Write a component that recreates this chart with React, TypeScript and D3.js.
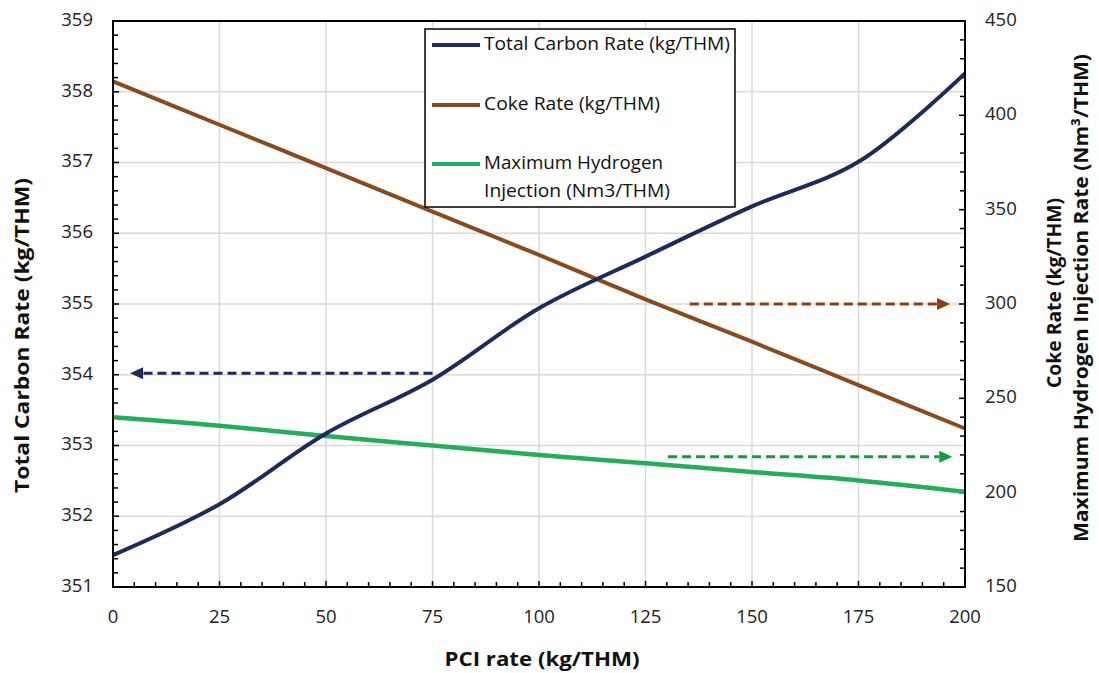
import React from "react";
import * as d3 from "d3";

const pci = [0, 25, 50, 75, 100, 125, 150, 175, 200];
const totalCarbon = [351.45, 352.17, 353.17, 353.93, 354.94, 355.67, 356.38, 357.01, 358.26];
const cokeRate = [418, 395, 372, 349, 326, 302.5, 280, 257, 234];
const maxHydrogen = [240, 235.5, 230, 225, 220, 215.6, 211, 206.5, 200.5];

const xTicks = [0, 25, 50, 75, 100, 125, 150, 175, 200];
const leftTicks = [351, 352, 353, 354, 355, 356, 357, 358, 359];
const rightTicks = [150, 200, 250, 300, 350, 400, 450];

const legendItems = [
  { lines: ["Total Carbon Rate (kg/THM)"], color: "#1c2b5c", lens: [246] },
  { lines: ["Coke Rate (kg/THM)"], color: "#8b4a1e", lens: [176] },
  { lines: ["Maximum Hydrogen", "Injection (Nm3/THM)"], color: "#25ad5c", lens: [179, 186] },
];

// annotation arrows: [fromPCI, toPCI, value, axis]
const arrows = [
  { from: 75, to: 4, value: 354.02, axis: "left", color: "#1c2b5c" },
  { from: 135.4, to: 196.5, value: 300, axis: "right", color: "#8b3f12" },
  { from: 130.3, to: 197, value: 219, axis: "right", color: "#0e9e40" },
];

const W = 1099, H = 673;
const L = 113, R = 965, T = 21, B = 587;
const FONT = "'Open Sans', 'Liberation Sans', sans-serif";

export default function App() {
  const x = d3.scaleLinear().domain([0, 200]).range([L, R]);
  const yL = d3.scaleLinear().domain([351, 359]).range([B, T]);
  const yR = d3.scaleLinear().domain([150, 450]).range([B, T]);

  const lineL = d3.line<number>().x((_, i) => x(pci[i])).y((d) => yL(d)).curve(d3.curveCatmullRom.alpha(0.5));
  const lineR = d3.line<number>().x((_, i) => x(pci[i])).y((d) => yR(d)).curve(d3.curveCatmullRom.alpha(0.5));

  const minorX = d3.range(0, 200.01, 5);
  const minorL = d3.range(351, 359.01, 0.2);
  const minorR = d3.range(150, 450.01, 10);

  return (
    <svg width={W} height={H} style={{ position: "absolute", left: 0, top: 0, background: "#fff" }} fontFamily={FONT}>
      <rect x={0} y={0} width={W} height={H} fill="#fff" />
      {/* grid */}
      {xTicks.slice(1, -1).map((t) => (
        <line key={"gx" + t} x1={x(t)} x2={x(t)} y1={T} y2={B} stroke="#d9d9d9" strokeWidth={1.5} />
      ))}
      {leftTicks.slice(1, -1).map((t) => (
        <line key={"gy" + t} x1={L} x2={R} y1={yL(t)} y2={yL(t)} stroke="#d9d9d9" strokeWidth={1.5} />
      ))}
      {/* minor/major ticks inside */}
      {minorX.map((t, i) => (
        <line key={"tx" + i} x1={x(t)} x2={x(t)} y1={B} y2={B - (i % 5 === 0 ? 6 : 5)} stroke="#000" strokeWidth={1.5} />
      ))}
      {minorL.map((t, i) => (
        <line key={"tl" + i} x1={L} x2={L + (i % 5 === 0 ? 6 : 5)} y1={yL(t)} y2={yL(t)} stroke="#000" strokeWidth={1.5} />
      ))}
      {minorR.map((t, i) => (
        <line key={"tr" + i} x1={R} x2={R - (i % 5 === 0 ? 6 : 5)} y1={yR(t)} y2={yR(t)} stroke="#000" strokeWidth={1.5} />
      ))}
      {/* series */}
      <path d={lineR(cokeRate) || ""} fill="none" stroke="#8b4a1e" strokeWidth={4} />
      <path d={lineR(maxHydrogen) || ""} fill="none" stroke="#25ad5c" strokeWidth={4.5} />
      <path d={lineL(totalCarbon) || ""} fill="none" stroke="#1c2b5c" strokeWidth={4} />
      {/* arrows */}
      {arrows.map((a, i) => {
        const yy = a.axis === "left" ? yL(a.value) : yR(a.value);
        const x0 = x(a.from), x1 = x(a.to);
        const dir = x1 > x0 ? 1 : -1;
        const head = 13;
        return (
          <g key={"ar" + i}>
            <line x1={x0} x2={x1 - dir * head} y1={yy} y2={yy} stroke={a.color} strokeWidth={3} strokeDasharray="9 5" />
            <polygon points={`${x1},${yy} ${x1 - dir * head},${yy - 6} ${x1 - dir * head},${yy + 6}`} fill={a.color} />
          </g>
        );
      })}
      {/* frame */}
      <rect x={L} y={T} width={R - L} height={B - T} fill="none" stroke="#000" strokeWidth={2} />
      {/* tick labels */}
      {xTicks.map((t) => (
        <text key={"lx" + t} x={x(t)} y={618} textAnchor="middle" dominantBaseline="middle" fontSize={18.5} fill="#222">{t}</text>
      ))}
      {leftTicks.map((t) => (
        <text key={"ll" + t} x={93} y={yL(t)} textAnchor="end" dominantBaseline="middle" fontSize={18.5} fill="#222">{t}</text>
      ))}
      {rightTicks.map((t) => (
        <text key={"lr" + t} x={985} y={yR(t)} textAnchor="start" dominantBaseline="middle" fontSize={18.5} fill="#222">{t}</text>
      ))}
      {/* axis titles */}
      <text x={542} y={661} textAnchor="middle" dominantBaseline="middle" fontSize={20} fontWeight="bold" fill="#111" textLength={195} lengthAdjust="spacingAndGlyphs">PCI rate (kg/THM)</text>
      <text transform="translate(24,335.5) rotate(-90)" textAnchor="middle" dominantBaseline="middle" fontSize={20} fontWeight="bold" fill="#111" textLength={315} lengthAdjust="spacingAndGlyphs">Total Carbon Rate (kg/THM)</text>
      <text transform="translate(1056,293) rotate(-90)" textAnchor="middle" dominantBaseline="middle" fontSize={20} fontWeight="bold" fill="#111" textLength={190} lengthAdjust="spacingAndGlyphs">Coke Rate (kg/THM)</text>
      <text transform="translate(1083,298) rotate(-90)" textAnchor="middle" dominantBaseline="middle" fontSize={20} fontWeight="bold" fill="#111" textLength={488} lengthAdjust="spacingAndGlyphs">Maximum Hydrogen Injection Rate (Nm³/THM)</text>
      {/* legend */}
      <rect x={425} y={29} width={310} height={178} fill="#fff" stroke="#000" strokeWidth={1.5} />
      {legendItems.map((it, i) => {
        const cy = [45, 105, 164][i];
        return (
          <g key={"lg" + i}>
            <line x1={432} x2={480} y1={cy} y2={cy} stroke={it.color} strokeWidth={4} />
            {it.lines.map((ln, j) => (
              <text key={j} x={484} y={cy + j * 28} dominantBaseline="middle" fontSize={18} fill="#111" textLength={it.lens[j]} lengthAdjust="spacingAndGlyphs">{ln}</text>
            ))}
          </g>
        );
      })}
    </svg>
  );
}
